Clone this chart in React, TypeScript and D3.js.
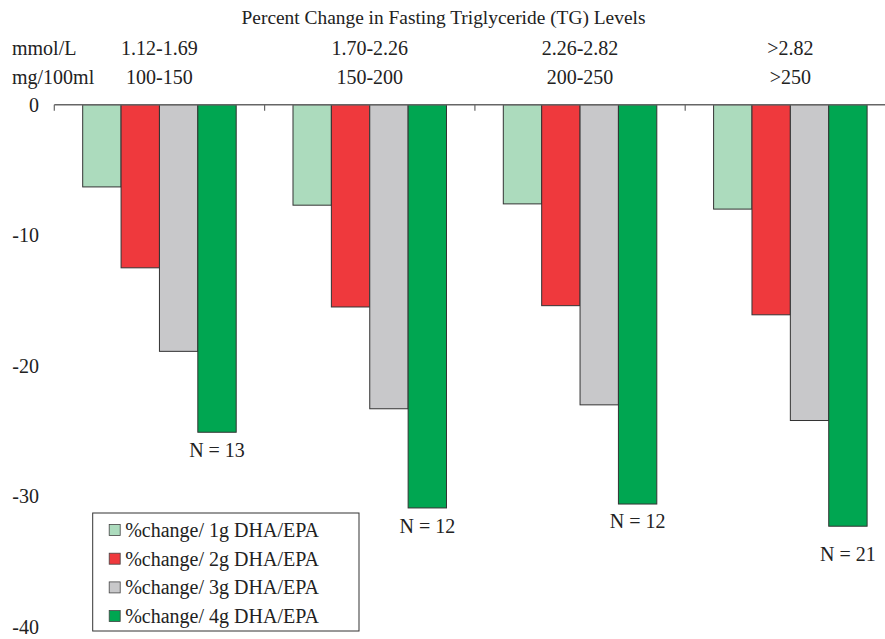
import React from 'react';
import { scaleBand, scaleLinear } from 'd3';

// TG level bins
const mmolLabels = ['1.12-1.69', '1.70-2.26', '2.26-2.82', '>2.82'];
const mgLabels = ['100-150', '150-200', '200-250', '>250'];

const seriesNames = [
  '%change/ 1g DHA/EPA',
  '%change/ 2g DHA/EPA',
  '%change/ 3g DHA/EPA',
  '%change/ 4g DHA/EPA',
];

// percent change per dose, one value per bin
const dose1g = [-6.3, -7.7, -7.6, -8.0];
const dose2g = [-12.5, -15.5, -15.4, -16.1];
const dose3g = [-18.9, -23.3, -23.0, -24.2];
const dose4g = [-25.1, -30.9, -30.6, -32.3];

const nLabels = ['N = 13', 'N = 12', 'N = 12', 'N = 21'];
const yTicks = [0, -10, -20, -30, -40];

const colors = ['#acdbbd', '#ef393d', '#c8c8ca', '#00a651'];

const W = 885;
const H = 639;
const FONT = 'Liberation Serif, DejaVu Serif, serif';
const FS = 20;

const txt: React.CSSProperties = { fontFamily: FONT, fontSize: FS, fill: '#222' };

const App = () => {
  const values = [dose1g, dose2g, dose3g, dose4g];

  const x0 = scaleBand<string>().domain(mmolLabels).range([54.3, 895.5]).padding(0);
  const x1 = scaleBand<string>()
    .domain(seriesNames)
    .range([0, x0.bandwidth()])
    .paddingInner(0)
    .paddingOuter(0.74);
  const y = scaleLinear().domain([0, -40]).range([104.7, 626.7]);

  // the last N label sits a bit lower in the original
  const nOffsets = [17.7, 18.4, 17.4, 27.3];

  const legend = { x: 92.7, y: 513, w: 266.3, h: 118, row: 28.7 };

  return (
    <svg
      width={W}
      height={H}
      style={{ position: 'absolute', left: 0, top: 0, background: '#fff', fontFamily: FONT }}
    >
      <text x={443.5} y={17} dy="0.35em" textAnchor="middle" style={{ ...txt, fontSize: 19.4 }}>
        Percent Change in Fasting Triglyceride (TG) Levels
      </text>
      <text x={12} y={48} dy="0.35em" style={txt}>
        mmol/L
      </text>
      <text x={12} y={77} dy="0.35em" style={txt}>
        mg/100ml
      </text>
      {mmolLabels.map((c, i) => (
        <g key={c}>
          <text x={(x0(c) as number) + x0.bandwidth() / 2} y={48} dy="0.35em" textAnchor="middle" style={txt}>
            {c}
          </text>
          <text x={(x0(c) as number) + x0.bandwidth() / 2} y={77} dy="0.35em" textAnchor="middle" style={txt}>
            {mgLabels[i]}
          </text>
        </g>
      ))}

      {/* y tick labels, no axis line */}
      {yTicks.map((t) => (
        <text key={t} x={39} y={y(t)} dy="0.35em" textAnchor="end" style={txt}>
          {t}
        </text>
      ))}

      {/* bars */}
      {mmolLabels.map((c, i) => (
        <g key={c} transform={`translate(${x0(c)},0)`}>
          {seriesNames.map((s, j) => {
            const v = values[j][i];
            return (
              <rect
                key={s}
                x={x1(s)}
                y={y(0)}
                width={x1.bandwidth()}
                height={y(v) - y(0)}
                fill={colors[j]}
                stroke="#333"
                strokeWidth={1}
              />
            );
          })}
          <text
            x={(x1(seriesNames[3]) as number) + x1.bandwidth() / 2}
            y={y(dose4g[i]) + nOffsets[i]}
            dy="0.35em"
            textAnchor="middle"
            style={txt}
          >
            {nLabels[i]}
          </text>
        </g>
      ))}

      {/* zero line with category ticks */}
      <line x1={54.3} x2={W} y1={y(0)} y2={y(0)} stroke="#666" strokeWidth={1.5} />
      {mmolLabels.map((c) => (
        <line key={c} x1={x0(c)} x2={x0(c)} y1={y(0)} y2={y(0) + 6} stroke="#666" strokeWidth={1.2} />
      ))}

      {/* legend */}
      <g transform={`translate(${legend.x},${legend.y})`}>
        <rect width={legend.w} height={legend.h} fill="#fff" stroke="#333" strokeWidth={1} />
        {seriesNames.map((s, j) => (
          <g key={s} transform={`translate(0,${17 + j * legend.row})`}>
            <rect x={16.5} y={-5.5} width={11} height={11} fill={colors[j]} stroke="#444" strokeWidth={0.8} />
            <text x={32.5} y={0} dy="0.35em" style={txt}>
              {s}
            </text>
          </g>
        ))}
      </g>
    </svg>
  );
};

export default App;
